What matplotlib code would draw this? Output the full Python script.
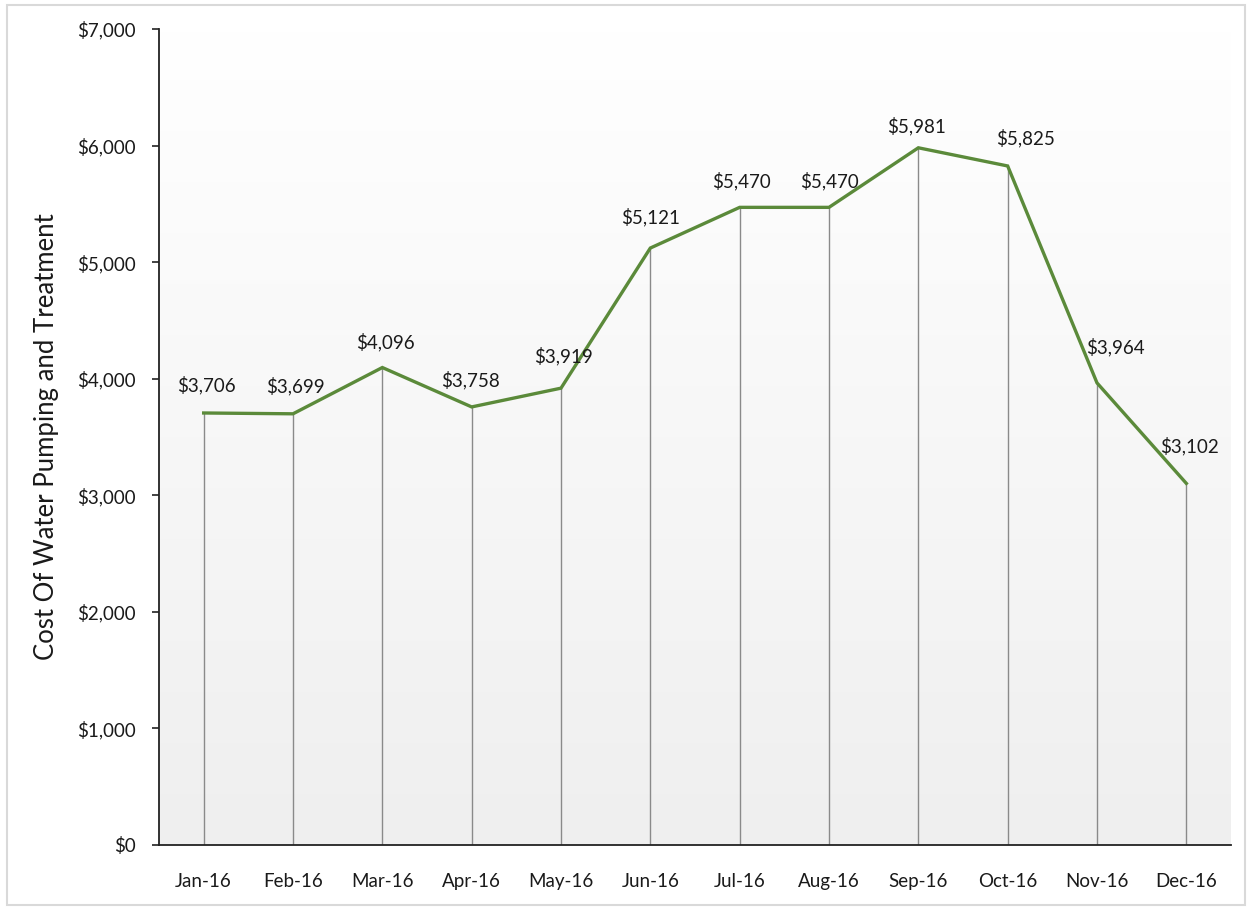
import numpy as np
import matplotlib
matplotlib.use("Agg")
import matplotlib.pyplot as plt
from matplotlib import patches, ticker

months = ["Jan-16", "Feb-16", "Mar-16", "Apr-16", "May-16", "Jun-16",
          "Jul-16", "Aug-16", "Sep-16", "Oct-16", "Nov-16", "Dec-16"]
cost = [3706, 3699, 4096, 3758, 3919, 5121, 5470, 5470, 5981, 5825, 3964, 3102]
y_ticks = [0, 1000, 2000, 3000, 4000, 5000, 6000, 7000]

# label nudges in points (dx, dy) - excel placed some of them oddly
label_offsets = [(2, 20), (2, 20), (2, 18), (-1, 19), (2, 23), (0, 22),
                 (1, 19), (0, 19), (-1, 16), (13, 20), (13, 26), (2, 27)]

plt.rcParams["font.family"] = ["Lato", "DejaVu Sans"]
TEXT = "#1a1a1a"

fig = plt.figure(figsize=(12.52, 9.07), dpi=100)
fig.patch.set_facecolor("white")
ax = fig.add_axes([159 / 1252, 1 - 845 / 907, (1231 - 159) / 1252, (845 - 29) / 907])

x = np.arange(len(months))
ax.set_xlim(-0.5, len(months) - 0.5)
ax.set_ylim(0, 7000)

# background gradient, white at top to light grey at bottom
grad = np.linspace(0, 1, 256).reshape(-1, 1)
ax.imshow(grad, extent=(-0.5, len(months) - 0.5, 0, 7000), aspect="auto",
          cmap=matplotlib.colors.LinearSegmentedColormap.from_list("g", ["#efefef", "#ffffff"]),
          origin="lower", zorder=0)

ax.vlines(x, 0, cost, color="#8a8a8a", linewidth=1.0, zorder=2)
ax.plot(x, cost, color="#5b8a3a", linewidth=2.4, solid_joinstyle="miter", zorder=3)

for xi, v, (dx, dy) in zip(x, cost, label_offsets):
    ax.annotate(f"${v:,}", (xi, v), xytext=(dx, dy), textcoords="offset points",
                ha="center", va="center", fontsize=13.5, color=TEXT, zorder=4)

ax.set_xticks(x)
ax.set_xticklabels(months, fontsize=13.5, color=TEXT)
ax.set_yticks(y_ticks)
ax.yaxis.set_major_formatter(ticker.FuncFormatter(lambda v, p: f"${int(v):,}"))
ax.tick_params(axis="y", direction="out", length=5, width=1.2, color="#222",
               labelsize=13.5, labelcolor=TEXT, pad=12)
ax.tick_params(axis="x", length=0, pad=20)
ax.set_ylabel("Cost Of Water Pumping and Treatment", fontsize=18.5, color=TEXT, labelpad=13)

for side in ["top", "right"]:
    ax.spines[side].set_visible(False)
for side in ["left", "bottom"]:
    ax.spines[side].set_color("#222")
    ax.spines[side].set_linewidth(1.3)

# light frame round the whole chart
fig.patches.append(patches.Rectangle((7 / 1252, 1 - 905 / 907), (1245 - 7) / 1252, (905 - 5) / 907,
                                     transform=fig.transFigure, fill=False,
                                     edgecolor="#d9d9d9", linewidth=1.5))

fig.savefig("out.png", dpi=100, facecolor="white")
